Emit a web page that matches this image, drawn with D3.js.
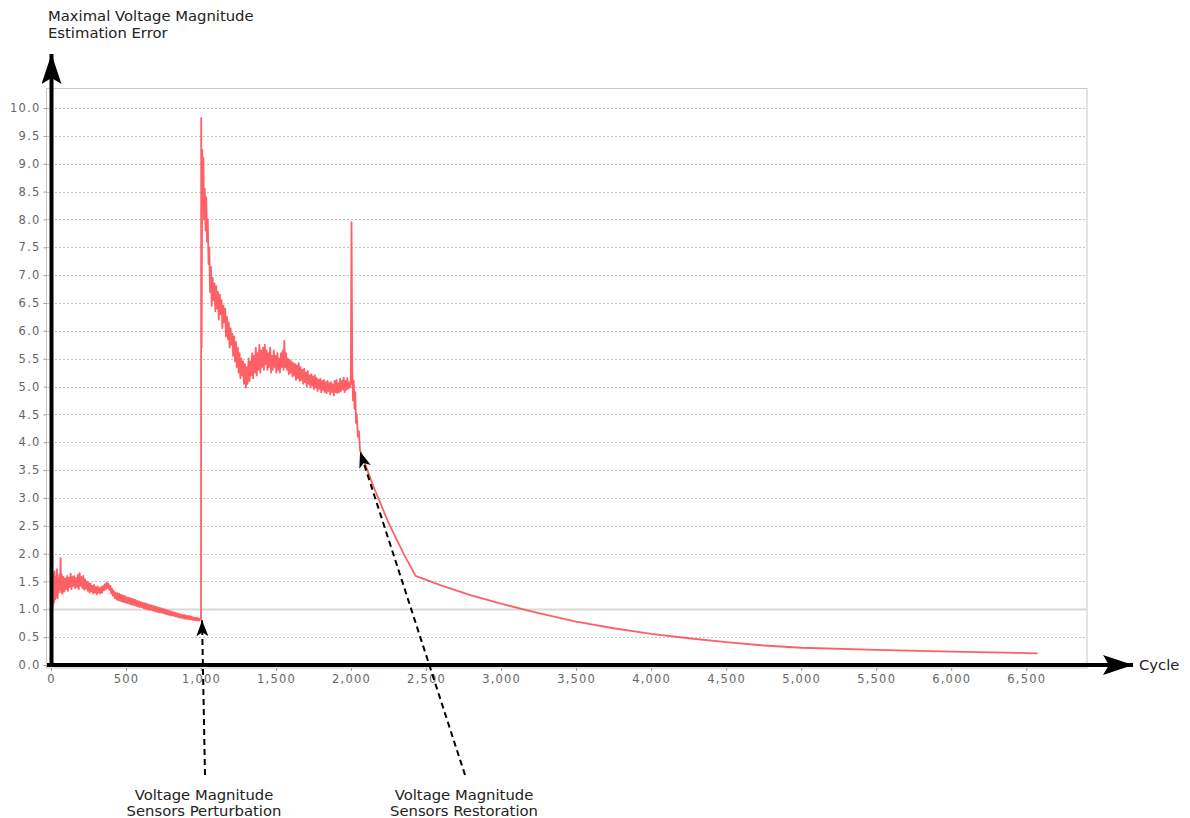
<!DOCTYPE html>
<html>
<head>
<meta charset="utf-8">
<script src="https://cdn.jsdelivr.net/npm/d3@7"></script>
<style>
  html, body { margin: 0; padding: 0; background: #ffffff; }
  svg { display: block; }
</style>
</head>
<body>
<svg id="chart" width="1190" height="818"></svg>
<script>
// ---------------- data ----------------
const yTitleLines = ["Maximal Voltage Magnitude", "Estimation Error"];
const xTitle = "Cycle";
const yTicks = [0,0.5,1,1.5,2,2.5,3,3.5,4,4.5,5,5.5,6,6.5,7,7.5,8,8.5,9,9.5,10];
const xTicks = [0,500,1000,1500,2000,2500,3000,3500,4000,4500,5000,5500,6000,6500];
const annotations = [
  { lines: ["Voltage Magnitude", "Sensors Perturbation"], cycle: 1000, value: 0.82 },
  { lines: ["Voltage Magnitude", "Sensors Restoration"], cycle: 2060, value: 3.85 }
];

// phase 1: before perturbation [cycle, error]
const phaseNormal = [
  [0,1.5],[4,1.08],[8,1.7],[12,1.05],[16,1.62],[20,1.12],[24,1.68],[28,1.18],[32,1.58],[36,1.22],
  [40,1.72],[44,1.2],[48,1.55],[52,1.3],[56,1.62],[60,1.35],[64,1.92],[68,1.3],[72,1.62],[77,1.28],
  [83,1.58],[89,1.32],[95,1.55],[101,1.36],[107,1.6],[113,1.33],[119,1.57],[125,1.4],[131,1.64],
  [137,1.36],[143,1.58],[149,1.42],[155,1.6],[161,1.38],[167,1.56],[173,1.4],[179,1.62],[185,1.36],
  [191,1.65],[197,1.42],[203,1.58],[209,1.38],[215,1.6],[221,1.35],[227,1.54],[233,1.37],[239,1.5],
  [245,1.33],[251,1.48],[257,1.3],[263,1.46],[269,1.32],[275,1.42],[281,1.28],[287,1.44],[293,1.3],
  [299,1.4],[305,1.27],[311,1.41],[317,1.3],[323,1.38],[329,1.28],[335,1.4],[341,1.3],[347,1.42],
  [353,1.34],[359,1.45],[365,1.36],[371,1.48],[377,1.38],[383,1.46],[389,1.35],[395,1.42],[401,1.28],
  [407,1.37],[413,1.24],[419,1.33],[425,1.2],[431,1.3],[437,1.18],[443,1.29],[449,1.16],[455,1.28],
  [461,1.15],[467,1.26],[473,1.14],[479,1.25],[485,1.13],[491,1.24],[497,1.12],[503,1.22],[509,1.11],
  [515,1.21],[521,1.1],[527,1.2],[533,1.09],[539,1.19],[545,1.08],[551,1.18],[557,1.07],[563,1.17],
  [569,1.06],[575,1.15],[581,1.05],[587,1.14],[593,1.04],[599,1.13],[605,1.04],[611,1.12],[617,1.02],
  [623,1.11],[629,1.01],[635,1.1],[641,1.0],[647,1.09],[653,0.99],[659,1.08],[665,0.99],[671,1.07],
  [677,0.98],[683,1.06],[689,0.97],[695,1.05],[701,0.96],[707,1.04],[713,0.95],[719,1.03],[725,0.94],
  [731,1.02],[737,0.94],[743,1.01],[749,0.93],[755,1.0],[761,0.92],[767,0.99],[773,0.91],[779,0.98],
  [785,0.9],[791,0.97],[797,0.89],[803,0.96],[809,0.89],[815,0.95],[821,0.88],[827,0.94],[833,0.87],
  [839,0.93],[845,0.86],[851,0.92],[857,0.85],[863,0.91],[869,0.85],[875,0.9],[881,0.84],[887,0.9],
  [893,0.83],[899,0.89],[905,0.83],[911,0.88],[917,0.82],[923,0.88],[929,0.82],[935,0.87],[941,0.81],
  [947,0.86],[953,0.81],[959,0.85],[965,0.8],[971,0.85],[977,0.8],[983,0.84],[989,0.8],[995,0.83],
  [1000,0.82]
];

// phase 2: perturbed sensors
const phasePerturbed = [
  [1001,9.82],[1004,5.7],[1008,9.25],[1012,8.3],[1016,9.1],[1020,8.0],[1025,8.55],[1030,7.8],
  [1035,8.4],[1040,7.6],[1045,8.0],[1050,7.2],[1055,7.5],[1060,6.7],[1066,7.15],[1071,6.45],
  [1078,6.95],[1083,6.55],[1090,6.85],[1095,6.35],[1101,6.8],[1107,6.4],[1113,6.7],[1118,6.2],
  [1125,6.65],[1131,6.3],[1137,6.55],[1142,6.05],[1149,6.45],[1155,6.15],[1161,6.4],[1166,5.9],
  [1173,6.25],[1179,5.85],[1185,6.15],[1190,5.7],[1197,6.05],[1203,5.75],[1209,5.95],[1214,5.55],
  [1221,5.9],[1227,5.45],[1233,5.8],[1238,5.35],[1245,5.7],[1251,5.25],[1257,5.6],[1262,5.15],
  [1269,5.5],[1275,5.2],[1281,5.45],[1286,5.05],[1293,5.4],[1299,4.98],[1305,5.35],[1310,5.05],
  [1317,5.5],[1323,5.1],[1329,5.45],[1334,5.2],[1341,5.6],[1347,5.15],[1353,5.55],[1358,5.25],
  [1365,5.7],[1371,5.2],[1377,5.6],[1382,5.3],[1389,5.75],[1395,5.25],[1401,5.65],[1406,5.35],
  [1413,5.7],[1419,5.3],[1425,5.75],[1430,5.4],[1437,5.65],[1443,5.3],[1449,5.6],[1454,5.35],
  [1461,5.7],[1467,5.25],[1473,5.55],[1478,5.3],[1485,5.65],[1491,5.35],[1497,5.55],[1502,5.25],
  [1509,5.6],[1515,5.3],[1521,5.5],[1526,5.25],[1533,5.6],[1539,5.35],[1545,5.65],[1550,5.3],
  [1555,5.82],[1561,5.35],[1567,5.6],[1573,5.3],[1579,5.5],[1585,5.22],[1591,5.48],[1597,5.25],
  [1603,5.45],[1609,5.18],[1615,5.42],[1621,5.2],[1627,5.4],[1633,5.12],[1639,5.38],[1645,5.15],
  [1651,5.42],[1657,5.1],[1663,5.35],[1669,5.12],[1675,5.3],[1681,5.05],[1687,5.32],[1693,5.08],
  [1699,5.25],[1705,5.0],[1711,5.28],[1717,5.05],[1723,5.2],[1729,4.98],[1735,5.22],[1741,5.02],
  [1747,5.18],[1753,4.95],[1759,5.2],[1765,4.98],[1771,5.15],[1777,4.92],[1783,5.12],[1789,4.96],
  [1795,5.14],[1801,4.9],[1807,5.1],[1813,4.94],[1819,5.12],[1825,4.9],[1831,5.08],[1837,4.88],
  [1843,5.1],[1849,4.92],[1855,5.06],[1861,4.86],[1867,5.08],[1873,4.9],[1879,5.04],[1885,4.84],
  [1891,5.1],[1897,4.9],[1903,5.12],[1909,4.88],[1915,5.06],[1921,4.9],[1927,5.14],[1933,4.92],
  [1939,5.1],[1945,4.95],[1951,5.16],[1957,4.9],[1963,5.1],[1969,4.94],[1975,5.15],[1981,4.96],
  [1987,5.08],[1993,4.98],[1998,5.05],[2003,7.95],[2008,5.3],[2013,4.75],[2018,5.1],[2023,4.6],
  [2028,4.9],[2033,4.35],[2038,4.5],[2045,4.1],[2052,4.2],[2060,3.85]
];

// phase 3: after restoration
const phaseRestored = [
  [2150,3.2],[2250,2.55],[2350,2.0],[2430,1.6],[2600,1.43],[2800,1.25],[3000,1.1],[3250,0.93],
  [3500,0.78],[3750,0.66],[4000,0.56],[4250,0.48],[4500,0.41],[4750,0.35],[5000,0.31],
  [5500,0.27],[6000,0.24],[6575,0.21]
];

// ---------------- drawing ----------------
const svg = d3.select("#chart");
const x = d3.scaleLinear().domain([0, 6905]).range([51, 1087]);
const y = d3.scaleLinear().domain([0, 10.36]).range([665, 88]);
const font = "'DejaVu Sans', Verdana, sans-serif";

// plot border
svg.append("rect")
  .attr("x", 46.5).attr("y", 88.5)
  .attr("width", 1087 - 46.5).attr("height", 668 - 88.5)
  .attr("fill", "none").attr("stroke", "#c8c8c8").attr("stroke-width", 1);

// grid lines
svg.append("g").selectAll("line")
  .data(yTicks.filter(d => d > 0))
  .join("line")
  .attr("x1", 47).attr("x2", 1087)
  .attr("y1", d => Math.round(y(d)) + 0.5).attr("y2", d => Math.round(y(d)) + 0.5)
  .attr("stroke", d => d === 1 ? "#d9d9d9" : "#c4c4c4")
  .attr("stroke-width", d => d === 1 ? 2 : 1)
  .attr("stroke-dasharray", d => d === 1 ? null : "2,2");

// y axis labels
const yAxis = d3.axisLeft(y).tickValues(yTicks).tickFormat(d3.format(".1f"))
  .tickSize(3).tickPadding(3);
const gy = svg.append("g").attr("transform", "translate(46.5,0)").call(yAxis);
gy.select(".domain").remove();
gy.selectAll(".tick line").attr("stroke", "#999");
gy.selectAll(".tick text").attr("fill", "#666").style("font-family", font)
  .style("font-size", "11.5px").style("letter-spacing", "1.2px");

// x axis labels
const xAxis = d3.axisBottom(x).tickValues(xTicks).tickFormat(d3.format(","))
  .tickSize(3).tickPadding(4);
const gx = svg.append("g").attr("transform", "translate(0,668)").call(xAxis);
gx.select(".domain").remove();
gx.selectAll(".tick line").attr("stroke", "#999");
gx.selectAll(".tick text").attr("fill", "#666").style("font-family", font)
  .style("font-size", "11.5px").style("letter-spacing", "1.2px");

// data line
const allPoints = phaseNormal.concat(phasePerturbed, phaseRestored);
const line = d3.line().x(d => x(d[0])).y(d => y(d[1]));
svg.append("path")
  .datum(allPoints)
  .attr("d", line)
  .attr("fill", "none")
  .attr("stroke", "#ff4f55")
  .attr("stroke-opacity", 0.9)
  .attr("stroke-width", 1.8)
  .attr("stroke-linejoin", "round");

// arrow markers
const defs = svg.append("defs");
defs.append("marker")
  .attr("id", "bigArrow").attr("viewBox", "0 0 30 20")
  .attr("refX", 30).attr("refY", 10)
  .attr("markerWidth", 30).attr("markerHeight", 20)
  .attr("markerUnits", "userSpaceOnUse").attr("orient", "auto")
  .append("path").attr("d", "M0,0 L30,10 L0,20 L6,10 Z").attr("fill", "#000");
defs.append("marker")
  .attr("id", "smallArrow").attr("viewBox", "0 0 16 12")
  .attr("refX", 16).attr("refY", 6)
  .attr("markerWidth", 16).attr("markerHeight", 12)
  .attr("markerUnits", "userSpaceOnUse").attr("orient", "auto")
  .append("path").attr("d", "M0,0 L16,6 L0,12 L4,6 Z").attr("fill", "#000");

// black axes with arrows
svg.append("line")
  .attr("x1", 47).attr("y1", 665).attr("x2", 1133).attr("y2", 665)
  .attr("stroke", "#000").attr("stroke-width", 4)
  .attr("marker-end", "url(#bigArrow)");
svg.append("line")
  .attr("x1", 51.5).attr("y1", 667).attr("x2", 51.5).attr("y2", 54)
  .attr("stroke", "#000").attr("stroke-width", 4)
  .attr("marker-end", "url(#bigArrow)");

// axis titles
const yt = svg.append("text").attr("x", 48).attr("y", 21)
  .style("font-family", font).style("font-size", "14.8px").attr("fill", "#222");
yTitleLines.forEach((t, i) => yt.append("tspan").attr("x", 48).attr("dy", i === 0 ? 0 : 17).text(t));
svg.append("text").attr("x", 1139).attr("y", 670)
  .style("font-family", font).style("font-size", "14.8px").attr("fill", "#222").text(xTitle);

// annotations
const labelX = [204, 464];
annotations.forEach((a, i) => {
  svg.append("line")
    .attr("x1", labelX[i] + 1).attr("y1", 775)
    .attr("x2", x(a.cycle) + (i === 0 ? 1 : 0)).attr("y2", y(a.value) + 1)
    .attr("stroke", "#000").attr("stroke-width", 2)
    .attr("stroke-dasharray", "6,4")
    .attr("marker-end", "url(#smallArrow)");
  const t = svg.append("text").attr("text-anchor", "middle")
    .style("font-family", font).style("font-size", "14.8px").attr("fill", "#222");
  a.lines.forEach((l, j) => t.append("tspan").attr("x", labelX[i]).attr("y", 800 + j * 16).text(l));
});
</script>
</body>
</html>
